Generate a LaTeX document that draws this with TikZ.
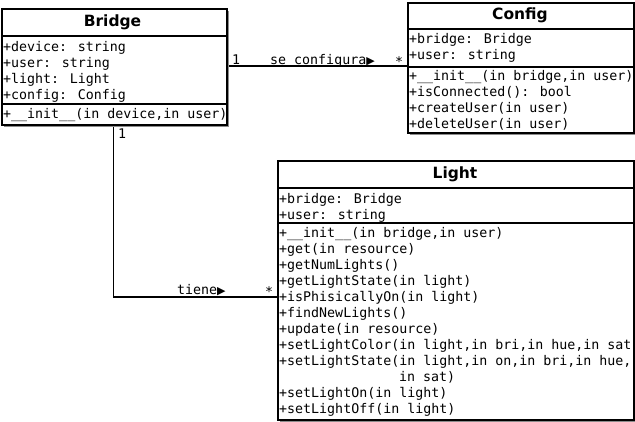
\documentclass[tikz,border=0pt]{standalone}
\usepackage{fontspec}
\setmainfont{DejaVu Sans}
\newfontfamily\umlmono{DejaVu Sans Mono}
\newfontfamily\umlsym{DejaVu Sans}
\usetikzlibrary{shadows,calc}
\tikzset{
  classbox/.style={draw=black, line width=1.7pt, fill=white, inner sep=0pt, anchor=north west,
    drop shadow={shadow xshift=2.5pt, shadow yshift=-2.5pt, fill=black!45, opacity=1}},
  sepline/.style={line width=1.7pt},
  titletext/.style={font=\fontsize{15.5}{18}\selectfont\bfseries, inner sep=0pt, anchor=center},
  itemtext/.style={font=\umlmono\fontsize{13.3}{16}\selectfont, anchor=base west, inner sep=0pt},
  conn/.style={line width=1.7pt},
}
\begin{document}
\begin{tikzpicture}[x=1pt,y=-1pt]
\useasboundingbox[fill=white] (0,0) rectangle (635,421);

% connectors
\coordinate (bend) at (113.5,297);
\draw[conn] (226,66) coordinate (bridgeR) -- (bridgeR -| 407,0);
\draw[conn] (113.5,124) coordinate (bridgeB) -- (bend) -- (277,297) coordinate (lightL);

% Bridge
\node[classbox, minimum width=225pt, minimum height=116pt] (bridge) at (1,8) {};
\draw[sepline] ($(bridge.north west)+(0,28)$) -- ($(bridge.north east)+(0,28)$);
\draw[sepline] ($(bridge.north west)+(0,96)$) -- ($(bridge.north east)+(0,96)$);
\node[titletext] (bridgeT) at (112.5,22) {Bridge};
\foreach \t [count=\i] in {{+device: string},{+user: string},{+light: Light},{+config: Config}}
  \node[itemtext] (ba\i) at (3,{51+16*(\i-1)}) {\t};
\node[itemtext] (bm1) at (3,118) {+\_\_init\_\_(in device,in user)};

% Config
\node[classbox, minimum width=226pt, minimum height=130pt] (config) at (407,2) {};
\draw[sepline] ($(config.north west)+(0,27)$) -- ($(config.north east)+(0,27)$);
\draw[sepline] ($(config.north west)+(0,65)$) -- ($(config.north east)+(0,65)$);
\node[titletext] (configT) at (520,15.5) {Config};
\foreach \t [count=\i] in {{+bridge: Bridge},{+user: string}}
  \node[itemtext] (ca\i) at (409,{43+16*(\i-1)}) {\t};
\foreach \t [count=\i] in {{+\_\_init\_\_(in bridge,in user)},{+isConnected(): bool},{+createUser(in user)},{+deleteUser(in user)}}
  \node[itemtext] (cm\i) at (409,{80+16*(\i-1)}) {\t};

% Light
\node[classbox, minimum width=356pt, minimum height=259pt] (light) at (277,160) {};
\draw[sepline] ($(light.north west)+(0,28)$) -- ($(light.north east)+(0,28)$);
\draw[sepline] ($(light.north west)+(0,63)$) -- ($(light.north east)+(0,63)$);
\node[titletext] (lightT) at (455,174) {Light};
\foreach \t [count=\i] in {{+bridge: Bridge},{+user: string}}
  \node[itemtext] (la\i) at (279,{203+16*(\i-1)}) {\t};
\foreach \t [count=\i] in {{+\_\_init\_\_(in bridge,in user)},{+get(in resource)},{+getNumLights()},{+getLightState(in light)},{+isPhisicallyOn(in light)},{+findNewLights()},{+update(in resource)},{+setLightColor(in light,in bri,in hue,in sat},{+setLightState(in light,in on,in bri,in hue,}}
  \node[itemtext] (lm\i) at (279,{237+16*(\i-1)}) {\t};
\node[itemtext] (lm10) at (399,381) {in sat)};
\node[itemtext] (lm11) at (279,397) {+setLightOn(in light)};
\node[itemtext] (lm12) at (279,413) {+setLightOff(in light)};

% labels
\node[itemtext] (l1) at (232,64) {1};
\node[itemtext] (l2) at (270,64) {se configura\umlsym\fontsize{11}{12}\selectfont▶};
\node[itemtext] (l3) at (395,66) {*};
\node[itemtext] (l4) at (118,138) {1};
\node[itemtext] (l5) at (177,294) {tiene\umlsym\fontsize{11}{12}\selectfont▶};
\node[itemtext] (l6) at (265,296) {*};
\end{tikzpicture}
\end{document}
